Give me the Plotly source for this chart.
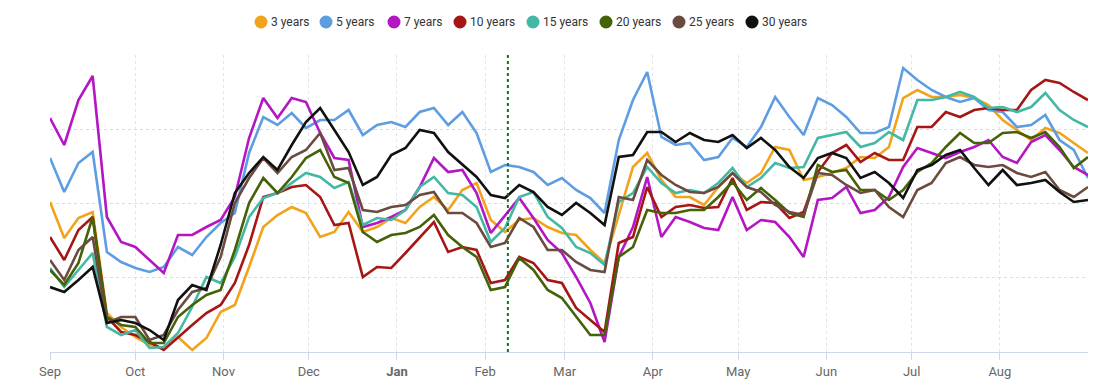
import pandas as pd
import plotly.graph_objects as go

# sample dates: every 5 days from 1 Sep 2022 to 1 Sep 2023
dates = pd.date_range("2022-09-01", periods=74, freq="5D")

y3 = [150, 114, 134, 140, 39, 25, 15, 7, 4, 15, 2,
      14, 40, 47, 85, 125, 137, 145, 139, 115, 120,
      140, 120, 125, 134, 129, 145, 155, 142, 162, 169, 132,
      120, 132, 134, 125, 119, 117, 102, 89, 137, 185, 199,
      172, 155, 155, 147, 165, 179, 169, 179, 205, 202,
      172, 175, 179, 184, 195, 194, 205, 254, 262, 255, 255,
      257, 254, 247, 232, 222, 212, 224, 219, 209, 199]
y5 = [194, 160, 189, 200, 100, 90, 84, 80, 85, 105, 97,
      115, 129, 139, 199, 235, 227, 239, 224, 232, 232,
      242, 217, 227, 230, 225, 240, 244, 227, 240, 219, 180,
      187, 185, 180, 167, 174, 162, 154, 139, 212, 252, 280,
      215, 207, 209, 192, 195, 214, 205, 225, 255, 235,
      217, 254, 247, 235, 219, 219, 225, 284, 272, 262, 255,
      250, 254, 242, 240, 225, 227, 237, 212, 202, 174]
y7 = [234, 207, 252, 276, 135, 110, 105, 92, 79, 117, 117,
      125, 132, 155, 214, 254, 234, 254, 250, 219, 194,
      192, 125, 129, 135, 142, 165, 194, 180, 182, 159, 119,
      137, 154, 134, 112, 99, 75, 49, 10, 95, 125, 175,
      115, 135, 130, 124, 122, 155, 122, 132, 130, 115,
      95, 152, 154, 165, 139, 142, 155, 185, 204, 199, 194,
      200, 205, 212, 195, 189, 210, 217, 202, 185, 177]
y10 = [115, 92, 122, 135, 35, 20, 17, 10, 2, 15, 27,
       39, 47, 69, 107, 155, 159, 165, 167, 155, 127,
       129, 75, 85, 84, 99, 115, 130, 100, 105, 102, 69,
       72, 95, 89, 72, 69, 44, 32, 20, 109, 115, 165,
       135, 145, 147, 144, 145, 174, 142, 150, 149, 134,
       140, 180, 199, 207, 190, 199, 192, 192, 225, 225, 240,
       235, 242, 244, 242, 242, 262, 272, 269, 260, 252]
y15 = [84, 65, 82, 99, 25, 17, 22, 4, 5, 19, 45,
       75, 69, 95, 135, 154, 159, 169, 179, 175, 164,
       170, 127, 134, 132, 142, 165, 175, 159, 157, 145, 110,
       124, 155, 160, 135, 124, 105, 99, 87, 150, 159, 185,
       169, 159, 162, 159, 169, 184, 165, 174, 189, 184,
       185, 214, 217, 220, 205, 209, 220, 212, 252, 252, 255,
       260, 255, 244, 245, 240, 245, 259, 242, 232, 225]
y20 = [82, 67, 89, 135, 35, 27, 25, 9, 9, 35, 47,
       57, 62, 102, 149, 174, 159, 175, 194, 202, 175,
       169, 120, 110, 117, 119, 125, 137, 117, 105, 95, 62,
       65, 94, 82, 62, 54, 35, 17, 17, 95, 105, 142,
       139, 139, 142, 142, 155, 170, 152, 164, 152, 139,
       135, 187, 180, 182, 162, 162, 152, 162, 180, 189, 205,
       219, 209, 209, 219, 220, 214, 220, 205, 184, 195]
y25 = [92, 72, 102, 115, 29, 35, 35, 12, 17, 42, 60,
       64, 95, 149, 174, 194, 179, 195, 202, 219, 182,
       184, 142, 140, 145, 147, 157, 160, 139, 139, 129, 105,
       109, 134, 125, 102, 102, 90, 82, 80, 155, 152, 192,
       177, 167, 160, 159, 165, 179, 165, 160, 147, 140,
       137, 179, 177, 167, 159, 162, 145, 135, 162, 169, 189,
       195, 187, 185, 187, 179, 175, 180, 162, 155, 165]
y30 = [65, 60, 72, 85, 29, 32, 29, 22, 12, 52, 67,
       62, 107, 159, 179, 195, 182, 207, 230, 244, 222,
       200, 167, 175, 197, 204, 222, 219, 200, 187, 175, 157,
       154, 167, 160, 145, 137, 149, 139, 127, 195, 197, 220,
       220, 210, 219, 212, 210, 217, 204, 214, 202, 185,
       174, 194, 199, 194, 174, 180, 169, 154, 182, 187, 197,
       202, 184, 167, 182, 167, 169, 172, 160, 150, 152]

series_names = ["3 years", "5 years", "7 years", "10 years",
                "15 years", "20 years", "25 years", "30 years"]
series_values = [y3, y5, y7, y10, y15, y20, y25, y30]
colors = ["#F2A31C", "#5E9DE2", "#B416C4", "#A61616",
          "#43B8A4", "#456208", "#6B4B40", "#111111"]

month_ticks = pd.date_range("2022-09-01", periods=12, freq="MS")
month_labels = ["Sep", "Oct", "Nov", "Dec", "<b>Jan</b>", "Feb",
                "Mar", "Apr", "May", "Jun", "Jul", "Aug"]
marker_date = "2023-02-09"

# layout geometry (pixels)
W, H = 1100, 390
ML, MR, MT, MB = 50, 12, 55, 38
PW, PH = W - ML - MR, H - MT - MB
legend_px = [261, 326, 394, 460, 533, 606, 679, 752]   # symbol centres
legend_py = 22


def px_to_paper_x(px):
    return (px - ML) / PW


def py_to_paper_y(py):
    return (H - MB - py) / PH


fig = go.Figure()
for name, vals, col in zip(series_names, series_values, colors):
    fig.add_trace(go.Scatter(x=dates, y=vals, mode="lines", name=name,
                             line=dict(color=col, width=2.6),
                             showlegend=False))

fig.add_shape(type="line", x0=marker_date, x1=marker_date, y0=0, y1=1,
              xref="x", yref="paper",
              line=dict(color="#0A7A0A", width=2, dash="dot"))

# custom legend: round symbols tight to their labels
ly = py_to_paper_y(legend_py)
for name, col, lx in zip(series_names, colors, legend_px):
    xp = px_to_paper_x(lx)
    fig.add_shape(type="circle", xref="paper", yref="paper",
                  xsizemode="pixel", ysizemode="pixel",
                  xanchor=xp, yanchor=ly, x0=-6.5, x1=6.5, y0=-6.5, y1=6.5,
                  fillcolor=col, line=dict(width=0), layer="above")
    fig.add_annotation(x=px_to_paper_x(lx + 8), y=ly, xref="paper", yref="paper",
                       text=name, showarrow=False, xanchor="left",
                       yanchor="middle",
                       font=dict(size=12, color="#333333"))

fig.update_layout(
    width=W, height=H,
    margin=dict(l=ML, r=MR, t=MT, b=MB, autoexpand=False),
    plot_bgcolor="white", paper_bgcolor="white",
    font=dict(family="Roboto, Arial, sans-serif", size=12, color="#333333"),
    showlegend=False,
)
fig.update_xaxes(range=["2022-09-01", "2023-09-01"],
                 tickvals=month_ticks, ticktext=month_labels,
                 showgrid=True, gridcolor="#e3e3e3", griddash="dot",
                 showline=True, linecolor="#ccd6eb", linewidth=1,
                 ticks="outside", ticklen=7, tickcolor="#ccd6eb",
                 tickfont=dict(size=13, color="#666666"),
                 zeroline=False, automargin=False)
fig.update_yaxes(range=[0, 297], tick0=0, dtick=74.25,
                 showgrid=True, gridcolor="#dcdcdc", griddash="dot",
                 showticklabels=False, zeroline=False, showline=False,
                 automargin=False)

fig.write_html("out.html", config={"displayModeBar": False},
               post_script="document.body.style.margin='0';"
                           "document.body.style.padding='0';")
